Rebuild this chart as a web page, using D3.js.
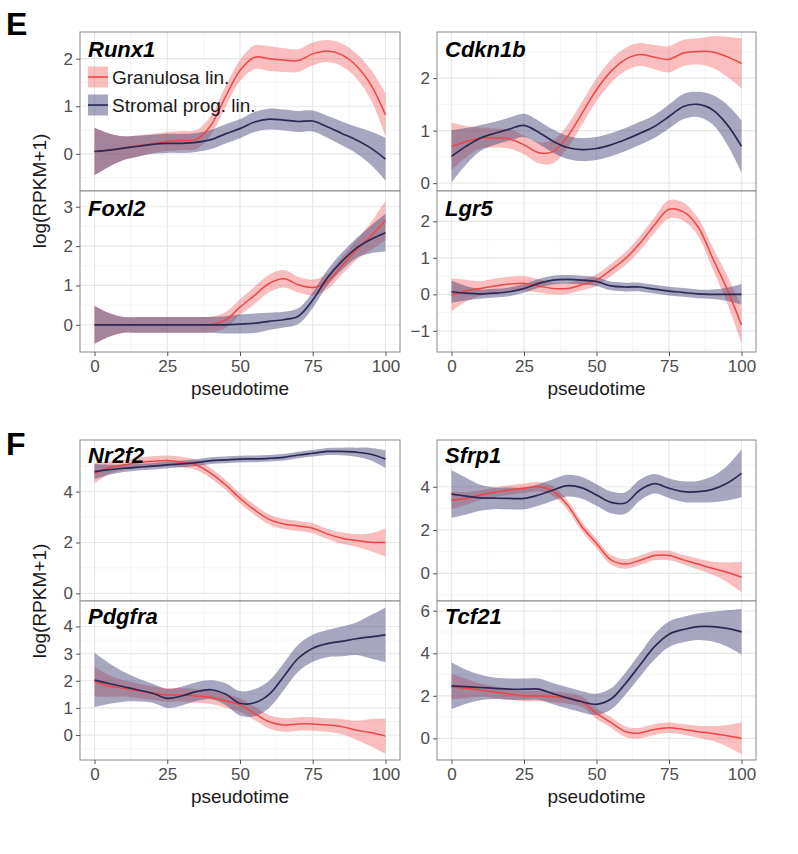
<!DOCTYPE html>
<html><head><meta charset="utf-8">
<script src="https://cdn.jsdelivr.net/npm/d3@7"></script>
<style>
body{margin:0;background:#fff}
svg{display:block;font-family:"Liberation Sans",Arial,Helvetica,sans-serif}
</style>
</head><body>
<svg id="chart" width="798" height="854"></svg>
<script>
// ---------------- DATA ----------------
const pseudotime = [0,5,10,15,20,25,30,35,40,45,50,55,60,65,70,75,80,85,90,95,100];
const xTicks = [0,25,50,75,100];
const seriesNames = ["Granulosa lin.","Stromal prog. lin."];
const geneNames = ["Runx1","Cdkn1b","Foxl2","Lgr5","Nr2f2","Sfrp1","Pdgfra","Tcf21"];
const panelLetters = ["E","F"];

const runx1Gran    = [0.05,0.08,0.12,0.17,0.22,0.26,0.28,0.30,0.60,1.20,1.75,2.03,2.00,1.97,1.96,2.10,2.16,2.08,1.85,1.45,0.82];
const runx1GranSE  = [0.50,0.35,0.25,0.22,0.20,0.20,0.20,0.20,0.20,0.22,0.22,0.25,0.26,0.25,0.24,0.24,0.23,0.24,0.26,0.32,0.45];
const runx1Strom   = [0.05,0.08,0.12,0.16,0.20,0.22,0.22,0.24,0.30,0.42,0.53,0.67,0.73,0.71,0.68,0.69,0.57,0.43,0.29,0.12,-0.11];
const runx1StromSE = [0.50,0.35,0.25,0.22,0.20,0.20,0.20,0.20,0.20,0.20,0.20,0.21,0.22,0.22,0.22,0.22,0.23,0.25,0.28,0.35,0.45];

const cdkn1bGran    = [0.70,0.79,0.86,0.86,0.84,0.73,0.58,0.60,0.89,1.33,1.78,2.13,2.36,2.45,2.40,2.36,2.48,2.51,2.50,2.41,2.28];
const cdkn1bGranSE  = [0.45,0.30,0.20,0.18,0.18,0.18,0.20,0.22,0.22,0.22,0.22,0.22,0.22,0.22,0.23,0.25,0.25,0.25,0.30,0.38,0.48];
const cdkn1bStrom   = [0.51,0.70,0.86,0.95,1.03,1.10,0.97,0.80,0.68,0.64,0.66,0.73,0.83,0.95,1.08,1.27,1.46,1.50,1.40,1.12,0.70];
const cdkn1bStromSE = [0.50,0.35,0.25,0.22,0.22,0.22,0.22,0.22,0.22,0.22,0.22,0.22,0.22,0.22,0.22,0.23,0.24,0.24,0.28,0.38,0.50];

const foxl2Gran    = [0,0,0,0,0,0,0,0,0.01,0.12,0.45,0.75,1.05,1.17,1.02,0.95,1.10,1.50,1.90,2.25,2.65];
const foxl2GranSE  = [0.48,0.30,0.20,0.20,0.20,0.20,0.20,0.20,0.20,0.20,0.20,0.22,0.22,0.22,0.20,0.20,0.20,0.22,0.25,0.35,0.50];
const foxl2Strom   = [0,0,0,0,0,0,0,0,0,0,0.02,0.04,0.09,0.13,0.22,0.63,1.19,1.61,1.95,2.17,2.34];
const foxl2StromSE = [0.48,0.30,0.20,0.20,0.20,0.20,0.20,0.20,0.20,0.22,0.24,0.25,0.22,0.20,0.20,0.20,0.20,0.22,0.25,0.35,0.48];

const lgr5Gran    = [-0.02,0.10,0.16,0.23,0.28,0.30,0.23,0.16,0.16,0.26,0.39,0.67,0.98,1.40,1.90,2.33,2.26,1.85,1.00,0.15,-0.84];
const lgr5GranSE  = [0.45,0.30,0.20,0.20,0.20,0.20,0.18,0.16,0.15,0.15,0.16,0.17,0.18,0.20,0.22,0.25,0.25,0.25,0.30,0.38,0.50];
const lgr5Strom   = [0.07,0.03,0.01,0.03,0.07,0.16,0.30,0.39,0.41,0.39,0.35,0.23,0.20,0.20,0.14,0.09,0.05,0.01,0,0,0];
const lgr5StromSE = [0.30,0.20,0.13,0.12,0.12,0.12,0.12,0.12,0.12,0.12,0.12,0.12,0.12,0.12,0.12,0.12,0.12,0.12,0.13,0.18,0.28];

const nr2f2Gran    = [4.72,4.94,5.05,5.14,5.19,5.22,5.16,5.05,4.72,4.27,3.74,3.28,2.91,2.73,2.65,2.56,2.34,2.17,2.08,2.01,2.00];
const nr2f2GranSE  = [0.40,0.25,0.20,0.20,0.20,0.20,0.20,0.20,0.20,0.20,0.20,0.20,0.20,0.20,0.20,0.20,0.20,0.22,0.25,0.35,0.55];
const nr2f2Strom   = [4.79,4.86,4.92,4.96,5.00,5.05,5.09,5.14,5.22,5.25,5.28,5.29,5.31,5.35,5.44,5.51,5.58,5.58,5.55,5.47,5.28];
const nr2f2StromSE = [0.30,0.20,0.15,0.13,0.13,0.13,0.13,0.13,0.13,0.13,0.13,0.13,0.13,0.13,0.13,0.13,0.14,0.15,0.18,0.25,0.35];

const sfrp1Gran    = [3.38,3.46,3.62,3.75,3.85,3.93,4.00,3.80,3.15,2.15,1.38,0.62,0.43,0.60,0.82,0.82,0.62,0.43,0.23,0.05,-0.18];
const sfrp1GranSE  = [0.40,0.30,0.22,0.22,0.22,0.22,0.22,0.22,0.22,0.22,0.22,0.22,0.22,0.22,0.22,0.22,0.22,0.25,0.30,0.45,0.70];
const sfrp1Strom   = [3.66,3.57,3.49,3.47,3.46,3.46,3.62,3.85,4.05,3.95,3.62,3.28,3.25,3.85,4.14,3.93,3.77,3.77,3.88,4.16,4.62];
const sfrp1StromSE = [1.10,0.85,0.60,0.50,0.50,0.50,0.50,0.50,0.50,0.50,0.50,0.50,0.50,0.48,0.45,0.45,0.48,0.50,0.60,0.80,1.10];

const pdgfraGran    = [1.97,1.81,1.72,1.63,1.54,1.48,1.48,1.44,1.39,1.26,1.11,0.80,0.49,0.37,0.41,0.41,0.37,0.31,0.18,0.09,-0.04];
const pdgfraGranSE  = [0.55,0.40,0.30,0.27,0.25,0.25,0.25,0.25,0.25,0.25,0.25,0.25,0.25,0.25,0.25,0.25,0.25,0.28,0.35,0.50,0.65];
const pdgfraStrom   = [2.03,1.90,1.78,1.66,1.54,1.35,1.44,1.60,1.67,1.51,1.17,1.19,1.50,2.15,2.83,3.20,3.37,3.45,3.55,3.62,3.69];
const pdgfraStromSE = [1.00,0.75,0.55,0.42,0.35,0.35,0.35,0.35,0.35,0.40,0.45,0.50,0.50,0.50,0.50,0.50,0.50,0.55,0.60,0.80,1.00];

const tcf21Gran    = [2.42,2.35,2.27,2.17,2.08,1.99,1.99,1.96,1.88,1.72,1.17,0.75,0.31,0.25,0.42,0.50,0.42,0.31,0.23,0.12,0.00];
const tcf21GranSE  = [0.60,0.45,0.30,0.27,0.25,0.25,0.25,0.25,0.25,0.25,0.25,0.25,0.25,0.25,0.25,0.25,0.25,0.28,0.35,0.50,0.74];
const tcf21Strom   = [2.47,2.43,2.39,2.35,2.31,2.31,2.31,2.10,1.90,1.72,1.60,1.85,2.58,3.45,4.31,4.90,5.12,5.25,5.25,5.17,5.01];
const tcf21StromSE = [1.10,0.80,0.60,0.50,0.50,0.50,0.50,0.50,0.50,0.50,0.50,0.50,0.52,0.55,0.60,0.60,0.60,0.62,0.70,0.85,1.07];

const yLimits = [[-0.78,2.56],[-0.15,2.88],[-0.69,3.40],[-1.58,2.83],[-0.30,6.03],[-1.28,6.16],[-0.92,4.94],[-1.02,6.46]];
const yTicks  = [[0,1,2],[0,1,2],[0,1,2,3],[-1,0,1,2],[0,2,4],[0,2,4],[0,1,2,3,4],[0,2,4,6]];

const granSeries = [runx1Gran,cdkn1bGran,foxl2Gran,lgr5Gran,nr2f2Gran,sfrp1Gran,pdgfraGran,tcf21Gran];
const granSE     = [runx1GranSE,cdkn1bGranSE,foxl2GranSE,lgr5GranSE,nr2f2GranSE,sfrp1GranSE,pdgfraGranSE,tcf21GranSE];
const stromSeries= [runx1Strom,cdkn1bStrom,foxl2Strom,lgr5Strom,nr2f2Strom,sfrp1Strom,pdgfraStrom,tcf21Strom];
const stromSE    = [runx1StromSE,cdkn1bStromSE,foxl2StromSE,lgr5StromSE,nr2f2StromSE,sfrp1StromSE,pdgfraStromSE,tcf21StromSE];

// ---------------- LAYOUT / STYLE ----------------
const colX = [[80,400],[437,756]];
const blockRows = [[32,191,352],[440,601,760]];
const letterY = [35,455];
const labelOffset = [25,23];
const colors = {
  granLine:"#ee4646", granFill:"#f24a4a", granAlpha:0.36,
  stromLine:"#2a2a55", stromFill:"#3c3c70", stromAlpha:0.45
};
const curve = d3.curveCatmullRom.alpha(0.5);

const svg = d3.select("#chart");
const defs = svg.append("defs");

geneNames.forEach((gene,i)=>{
  const block = Math.floor(i/4);
  const row = Math.floor((i%4)/2);
  const col = i%2;
  const [x0,x1] = colX[col];
  const y0 = blockRows[block][row], y1 = blockRows[block][row+1];
  const x = d3.scaleLinear().domain([-5,105]).range([x0,x1]);
  const y = d3.scaleLinear().domain(yLimits[i]).range([y1,y0]);

  const g = svg.append("g");
  const clipId = "clip"+i;
  defs.append("clipPath").attr("id",clipId)
    .append("rect").attr("x",x0).attr("y",y0).attr("width",x1-x0).attr("height",y1-y0);

  g.append("rect").attr("x",x0).attr("y",y0).attr("width",x1-x0).attr("height",y1-y0).attr("fill","#fff");

  // grid (minor then major)
  const yt = yTicks[i];
  const step = yt[1]-yt[0];
  const yMinor = [];
  for (let v = yt[0]-step/2; v <= yLimits[i][1]; v += step) if (v >= yLimits[i][0]) yMinor.push(v);
  const xMinor = [];
  for (let k=0;k<xTicks.length-1;k++) xMinor.push((xTicks[k]+xTicks[k+1])/2);
  const grid = g.append("g").attr("clip-path",`url(#${clipId})`);
  grid.selectAll(".ymin").data(yMinor).join("line")
    .attr("x1",x0).attr("x2",x1).attr("y1",d=>y(d)).attr("y2",d=>y(d))
    .attr("stroke","#f3f3f3").attr("stroke-width",0.8);
  grid.selectAll(".xmin").data(xMinor).join("line")
    .attr("y1",y0).attr("y2",y1).attr("x1",d=>x(d)).attr("x2",d=>x(d))
    .attr("stroke","#f3f3f3").attr("stroke-width",0.8);
  grid.selectAll(".ymaj").data(yt).join("line")
    .attr("x1",x0).attr("x2",x1).attr("y1",d=>y(d)).attr("y2",d=>y(d))
    .attr("stroke","#e8e8e8").attr("stroke-width",1.2);
  grid.selectAll(".xmaj").data(xTicks).join("line")
    .attr("y1",y0).attr("y2",y1).attr("x1",d=>x(d)).attr("x2",d=>x(d))
    .attr("stroke","#e8e8e8").attr("stroke-width",1.2);

  // ribbons & lines
  const plot = g.append("g").attr("clip-path",`url(#${clipId})`);
  const mk = (mean,se)=>pseudotime.map((t,k)=>({t, m:mean[k], lo:mean[k]-se[k], hi:mean[k]+se[k]}));
  const gd = mk(granSeries[i],granSE[i]);
  const sd = mk(stromSeries[i],stromSE[i]);
  const area = d3.area().x(d=>x(d.t)).y0(d=>y(d.lo)).y1(d=>y(d.hi)).curve(curve);
  const line = d3.line().x(d=>x(d.t)).y(d=>y(d.m)).curve(curve);
  plot.append("path").datum(gd).attr("d",area).attr("fill",colors.granFill).attr("fill-opacity",colors.granAlpha);
  plot.append("path").datum(sd).attr("d",area).attr("fill",colors.stromFill).attr("fill-opacity",colors.stromAlpha);
  plot.append("path").datum(gd).attr("d",line).attr("fill","none").attr("stroke",colors.granLine).attr("stroke-width",1.5);
  plot.append("path").datum(sd).attr("d",line).attr("fill","none").attr("stroke",colors.stromLine).attr("stroke-width",1.7);

  // frame
  g.append("rect").attr("x",x0).attr("y",y0).attr("width",x1-x0).attr("height",y1-y0)
    .attr("fill","none").attr("stroke","#8a8a8a").attr("stroke-width",1);

  // y axis
  const ya = g.append("g").attr("transform",`translate(${x0},0)`)
    .call(d3.axisLeft(y).tickValues(yt).tickSize(4).tickPadding(3).tickFormat(d=>d<0?"\u2212"+Math.abs(d):d));
  ya.select(".domain").remove();
  ya.selectAll(".tick line").attr("stroke","#555");
  ya.selectAll(".tick text").attr("fill","#4d4d4d").style("font-size","17px");

  // x axis on bottom row
  if (row===1){
    const xa = g.append("g").attr("transform",`translate(0,${y1})`)
      .call(d3.axisBottom(x).tickValues(xTicks).tickSize(4).tickPadding(4));
    xa.select(".domain").remove();
    xa.selectAll(".tick line").attr("stroke","#555");
    xa.selectAll(".tick text").attr("fill","#4d4d4d").style("font-size","17px");
    g.append("text").attr("x",(x(0)+x(100))/2).attr("y",y1+43)
      .attr("text-anchor","middle").style("font-size","19px").attr("fill","#1a1a1a").text("pseudotime");
  }

  // gene label
  g.append("text").attr("x",x0+8).attr("y",y0+labelOffset[block])
    .style("font-size","22px").style("font-weight","bold").style("font-style","italic")
    .attr("fill","#000").text(gene);

  // legend in first panel
  if (i===0){
    const leg = g.append("g");
    const items = [
      {name:seriesNames[0], fill:colors.granFill, a:colors.granAlpha, line:colors.granLine, cy:77},
      {name:seriesNames[1], fill:colors.stromFill, a:colors.stromAlpha, line:colors.stromLine, cy:105}
    ];
    items.forEach(it=>{
      leg.append("rect").attr("x",88).attr("y",it.cy-10.5).attr("width",20).attr("height",21)
        .attr("fill",it.fill).attr("fill-opacity",it.a);
      leg.append("line").attr("x1",88).attr("x2",108).attr("y1",it.cy).attr("y2",it.cy)
        .attr("stroke",it.line).attr("stroke-width",1.6);
      leg.append("text").attr("x",112).attr("y",it.cy).attr("dy","0.35em")
        .style("font-size","19px").attr("fill","#1a1a1a").text(it.name);
    });
  }
});

// y titles and panel letters
blockRows.forEach((rows,b)=>{
  svg.append("text").attr("transform",`translate(46,${rows[1]}) rotate(-90)`)
    .attr("text-anchor","middle").style("font-size","19px").attr("fill","#1a1a1a").text("log(RPKM+1)");
  svg.append("text").attr("x",6).attr("y",letterY[b]).style("font-size","32px").style("font-weight","bold")
    .attr("fill","#000").text(panelLetters[b]);
});
</script>
</body></html>
